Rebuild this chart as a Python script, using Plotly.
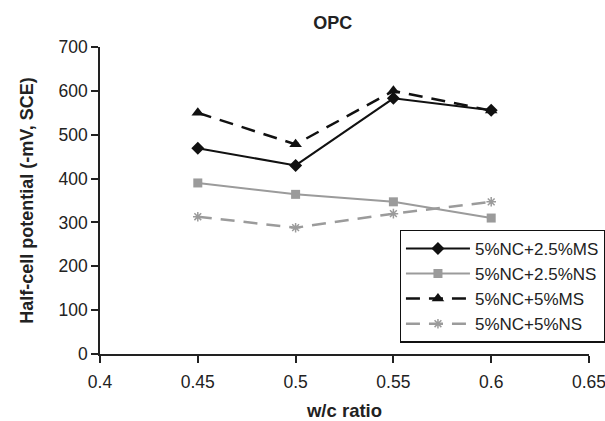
import plotly.graph_objects as go

# w/c ratios and half-cell potentials (-mV, SCE)
wc_ratio = [0.45, 0.5, 0.55, 0.6]
nc5_ms25 = [469, 430, 583, 556]
nc5_ns25 = [390, 364, 347, 310]
nc5_ms5 = [550, 478, 600, 555]
nc5_ns5 = [313, 288, 320, 347]

series_names = ["5%NC+2.5%MS", "5%NC+2.5%NS", "5%NC+5%MS", "5%NC+5%NS"]

DARK = "#111111"
GRAY = "#9b9b9b"

fig = go.Figure()
fig.add_trace(go.Scatter(x=wc_ratio, y=nc5_ms25, name=series_names[0], mode="lines+markers",
                         line=dict(color=DARK, width=2),
                         marker=dict(symbol="diamond", size=10, color=DARK)))
fig.add_trace(go.Scatter(x=wc_ratio, y=nc5_ns25, name=series_names[1], mode="lines+markers",
                         line=dict(color=GRAY, width=2),
                         marker=dict(symbol="square", size=9, color=GRAY)))
fig.add_trace(go.Scatter(x=wc_ratio, y=nc5_ms5, name=series_names[2], mode="lines+markers",
                         line=dict(color=DARK, width=2.5, dash="14px,9px"),
                         marker=dict(symbol="triangle-up", size=11, color=DARK)))
fig.add_trace(go.Scatter(x=wc_ratio, y=nc5_ns5, name=series_names[3], mode="lines+markers",
                         line=dict(color=GRAY, width=2.5, dash="14px,9px"),
                         marker=dict(symbol="asterisk-open", size=8, color=GRAY,
                                     line=dict(color=GRAY, width=1.5))))

font_family = "Liberation Sans, Arial, sans-serif"
fig.update_layout(
    width=605, height=421,
    margin=dict(l=100, r=16, t=47, b=67, autoexpand=False),
    paper_bgcolor="white", plot_bgcolor="white",
    font=dict(family=font_family, size=17.5, color="#222222"),
    title=dict(text="<b>OPC</b>", x=0.55, xanchor="center", y=0.945, yanchor="middle",
               font=dict(size=18, color="#222222")),
    xaxis=dict(range=[0.4, 0.65], tickvals=[0.4, 0.45, 0.5, 0.55, 0.6, 0.65],
               ticktext=["0.4", "0.45", "0.5", "0.55", "0.6", "0.65"],
               showline=True, linecolor="#222222", linewidth=1.5,
               ticks="outside", ticklen=7, tickcolor="#222222", tickwidth=1.5,
               ticklabelstandoff=4, ticklabeloverflow="allow", automargin=False,
               showgrid=False, zeroline=False,
               title=dict(text="<b>w/c ratio</b>", font=dict(size=18.5), standoff=17)),
    yaxis=dict(range=[0, 700], dtick=100,
               showline=True, linecolor="#222222", linewidth=1.5,
               ticks="outside", ticklen=7, tickcolor="#222222", tickwidth=1.5,
               automargin=False,
               showgrid=False, zeroline=False,
               title=dict(text="<b>Half-cell potential (-mV, SCE)</b>", font=dict(size=18), standoff=20)),
    legend=dict(x=0.613, y=0.405, xanchor="left", yanchor="top",
                bordercolor="#111111", borderwidth=1.2, bgcolor="white",
                font=dict(size=17), itemwidth=64, tracegroupgap=0),
    showlegend=True,
)

fig.write_html("out.html")
